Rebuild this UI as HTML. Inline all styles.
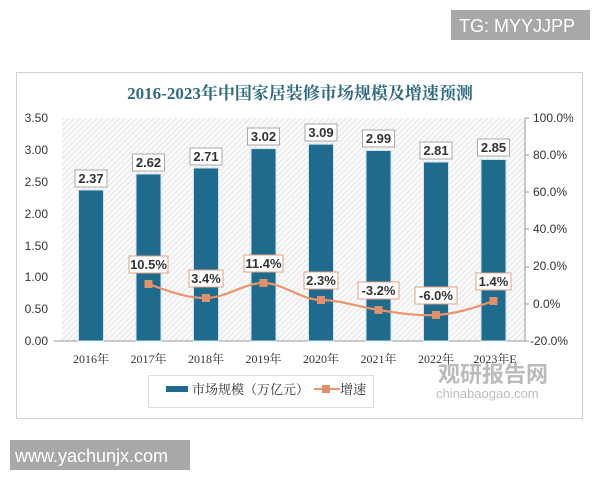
<!DOCTYPE html>
<html><head><meta charset="utf-8"><style>
body{margin:0;background:#fff;width:600px;height:480px;overflow:hidden;font-family:"Liberation Sans","Noto Sans CJK SC",sans-serif}
</style></head><body>
<svg width="600" height="480" xmlns="http://www.w3.org/2000/svg" font-family="Liberation Sans, Noto Sans CJK SC, sans-serif">
<defs>
<pattern id="h" width="4" height="4" patternUnits="userSpaceOnUse" patternTransform="rotate(45)">
<rect width="4" height="4" fill="#fafafa"/><line x1="0" y1="0" x2="0" y2="4" stroke="#d8d8d8" stroke-width="1.2"/>
</pattern>
</defs>
<rect x="451" y="10" width="139" height="30" fill="#a8a8a8"/>
<text x="459" y="32" font-size="18" fill="#fff">TG: MYYJJPP</text>
<rect x="16.5" y="72.5" width="566" height="346" fill="#fff" stroke="#d0d0d0"/>
<text x="300" y="99" font-size="17" font-weight="bold" fill="#2e6a80" text-anchor="middle" font-family="Liberation Serif, Noto Serif CJK SC, serif">2016-2023年中国家居装修市场规模及增速预测</text>
<rect x="62" y="118" width="463" height="223" fill="url(#h)"/>
<line x1="54" y1="341" x2="525" y2="341" stroke="#999"/>
<line x1="525" y1="118" x2="525" y2="341" stroke="#999"/>
<g font-size="12" fill="#333">
<text x="48" y="122" text-anchor="end">3.50</text>
<text x="48" y="154" text-anchor="end">3.00</text>
<text x="48" y="186" text-anchor="end">2.50</text>
<text x="48" y="218" text-anchor="end">2.00</text>
<text x="48" y="250" text-anchor="end">1.50</text>
<text x="48" y="281" text-anchor="end">1.00</text>
<text x="48" y="313" text-anchor="end">0.50</text>
<text x="48" y="345" text-anchor="end">0.00</text>
<text x="533" y="122">100.0%</text>
<text x="533" y="159">80.0%</text>
<text x="533" y="196">60.0%</text>
<text x="533" y="233">40.0%</text>
<text x="533" y="270">20.0%</text>
<text x="533" y="308">0.0%</text>
<text x="530" y="345">-20.0%</text>
</g>
<g stroke="#999"><line x1="525" y1="118" x2="529" y2="118"/><line x1="525" y1="155" x2="529" y2="155"/><line x1="525" y1="192" x2="529" y2="192"/><line x1="525" y1="229" x2="529" y2="229"/><line x1="525" y1="267" x2="529" y2="267"/><line x1="525" y1="304" x2="529" y2="304"/><line x1="525" y1="341" x2="529" y2="341"/></g>
<g fill="#1f6b8e" stroke="#cfe6f0" stroke-width="1">
<rect x="78.5" y="190" width="25" height="151"/>
<rect x="136" y="174" width="25" height="167"/>
<rect x="193.5" y="168" width="25" height="173"/>
<rect x="251" y="148.6" width="25" height="192.4"/>
<rect x="308.5" y="144.2" width="25" height="196.8"/>
<rect x="366" y="150.5" width="25" height="190.5"/>
<rect x="423.5" y="162" width="25" height="179"/>
<rect x="481" y="159.5" width="25" height="181.5"/>
</g>
<g font-size="13" font-weight="bold" fill="#333" text-anchor="middle">
<g fill="#fff" stroke="#aaa"><rect x="75" y="170" width="32" height="17"/><rect x="132.5" y="154" width="32" height="17"/><rect x="190" y="148" width="32" height="17"/><rect x="247.5" y="128" width="32" height="17"/><rect x="305" y="124" width="32" height="17"/><rect x="362.5" y="130" width="32" height="17"/><rect x="420" y="142" width="32" height="17"/><rect x="477.5" y="139" width="32" height="17"/></g>
<text x="91" y="183">2.37</text><text x="148.5" y="167">2.62</text><text x="206" y="161">2.71</text><text x="263.5" y="141">3.02</text><text x="321" y="137">3.09</text><text x="378.5" y="143">2.99</text><text x="436" y="155">2.81</text><text x="493.5" y="152">2.85</text>
</g>
<path d="M148.5,284 C168,291 186,298 206,298 C226,298 244,283 263.5,283 C283,283 301,300 321,300 C340,300 359,307 378.5,310 C398,313 417,316 436,315 C455,314 474,308 493.5,301" fill="none" stroke="#e8956d" stroke-width="2.2"/>
<g fill="#e0906a"><rect x="144.5" y="280" width="8" height="8"/><rect x="202" y="294" width="8" height="8"/><rect x="259.5" y="279" width="8" height="8"/><rect x="317" y="296" width="8" height="8"/><rect x="374.5" y="306" width="8" height="8"/><rect x="432" y="311" width="8" height="8"/><rect x="489.5" y="297" width="8" height="8"/></g>
<g font-size="13" font-weight="bold" fill="#333" text-anchor="middle">
<g fill="#fff" stroke="#e0a080"><rect x="129" y="256" width="39" height="17"/><rect x="189" y="270" width="34" height="17"/><rect x="244" y="255" width="39" height="17"/><rect x="304" y="272" width="34" height="17"/><rect x="358" y="282" width="41" height="17"/><rect x="415" y="287" width="42" height="17"/><rect x="476" y="273" width="35" height="17"/></g>
<text x="148.5" y="269">10.5%</text><text x="206" y="283">3.4%</text><text x="263.5" y="268">11.4%</text><text x="321" y="285">2.3%</text><text x="378.5" y="295">-3.2%</text><text x="436" y="300">-6.0%</text><text x="493.5" y="286">1.4%</text>
</g>
<g font-size="12" fill="#333" text-anchor="middle" font-family="Liberation Serif, Noto Serif CJK SC, serif">
<text x="91" y="363">2016年</text><text x="148.5" y="363">2017年</text><text x="206" y="363">2018年</text><text x="263.5" y="363">2019年</text><text x="321" y="363">2020年</text><text x="378.5" y="363">2021年</text><text x="436" y="363">2022年</text><text x="495" y="363">2023年E</text>
</g>
<rect x="148.5" y="375.5" width="225" height="32" fill="#fff" stroke="#ddd"/>
<rect x="166" y="386" width="22" height="6" fill="#1f6b8e"/>
<text x="192" y="394" font-size="13" fill="#333" font-family="Liberation Serif, Noto Serif CJK SC, serif">市场规模（万亿元）</text>
<line x1="314" y1="389" x2="340" y2="389" stroke="#e8956d" stroke-width="2"/><rect x="322" y="385" width="8" height="8" fill="#e0906a"/>
<text x="340" y="394" font-size="13" fill="#333" font-family="Liberation Serif, Noto Serif CJK SC, serif">增速</text>
<text x="438" y="382" font-size="22" font-weight="bold" fill="#bbb">观研报告网</text>
<text x="436" y="398" font-size="13" fill="#bbb">chinabaogao.com</text>
<rect x="10" y="440" width="180" height="30" fill="#a8a8a8"/>
<text x="15" y="462" font-size="18" fill="#fff">www.yachunjx.com</text>
</svg>
</body></html>
